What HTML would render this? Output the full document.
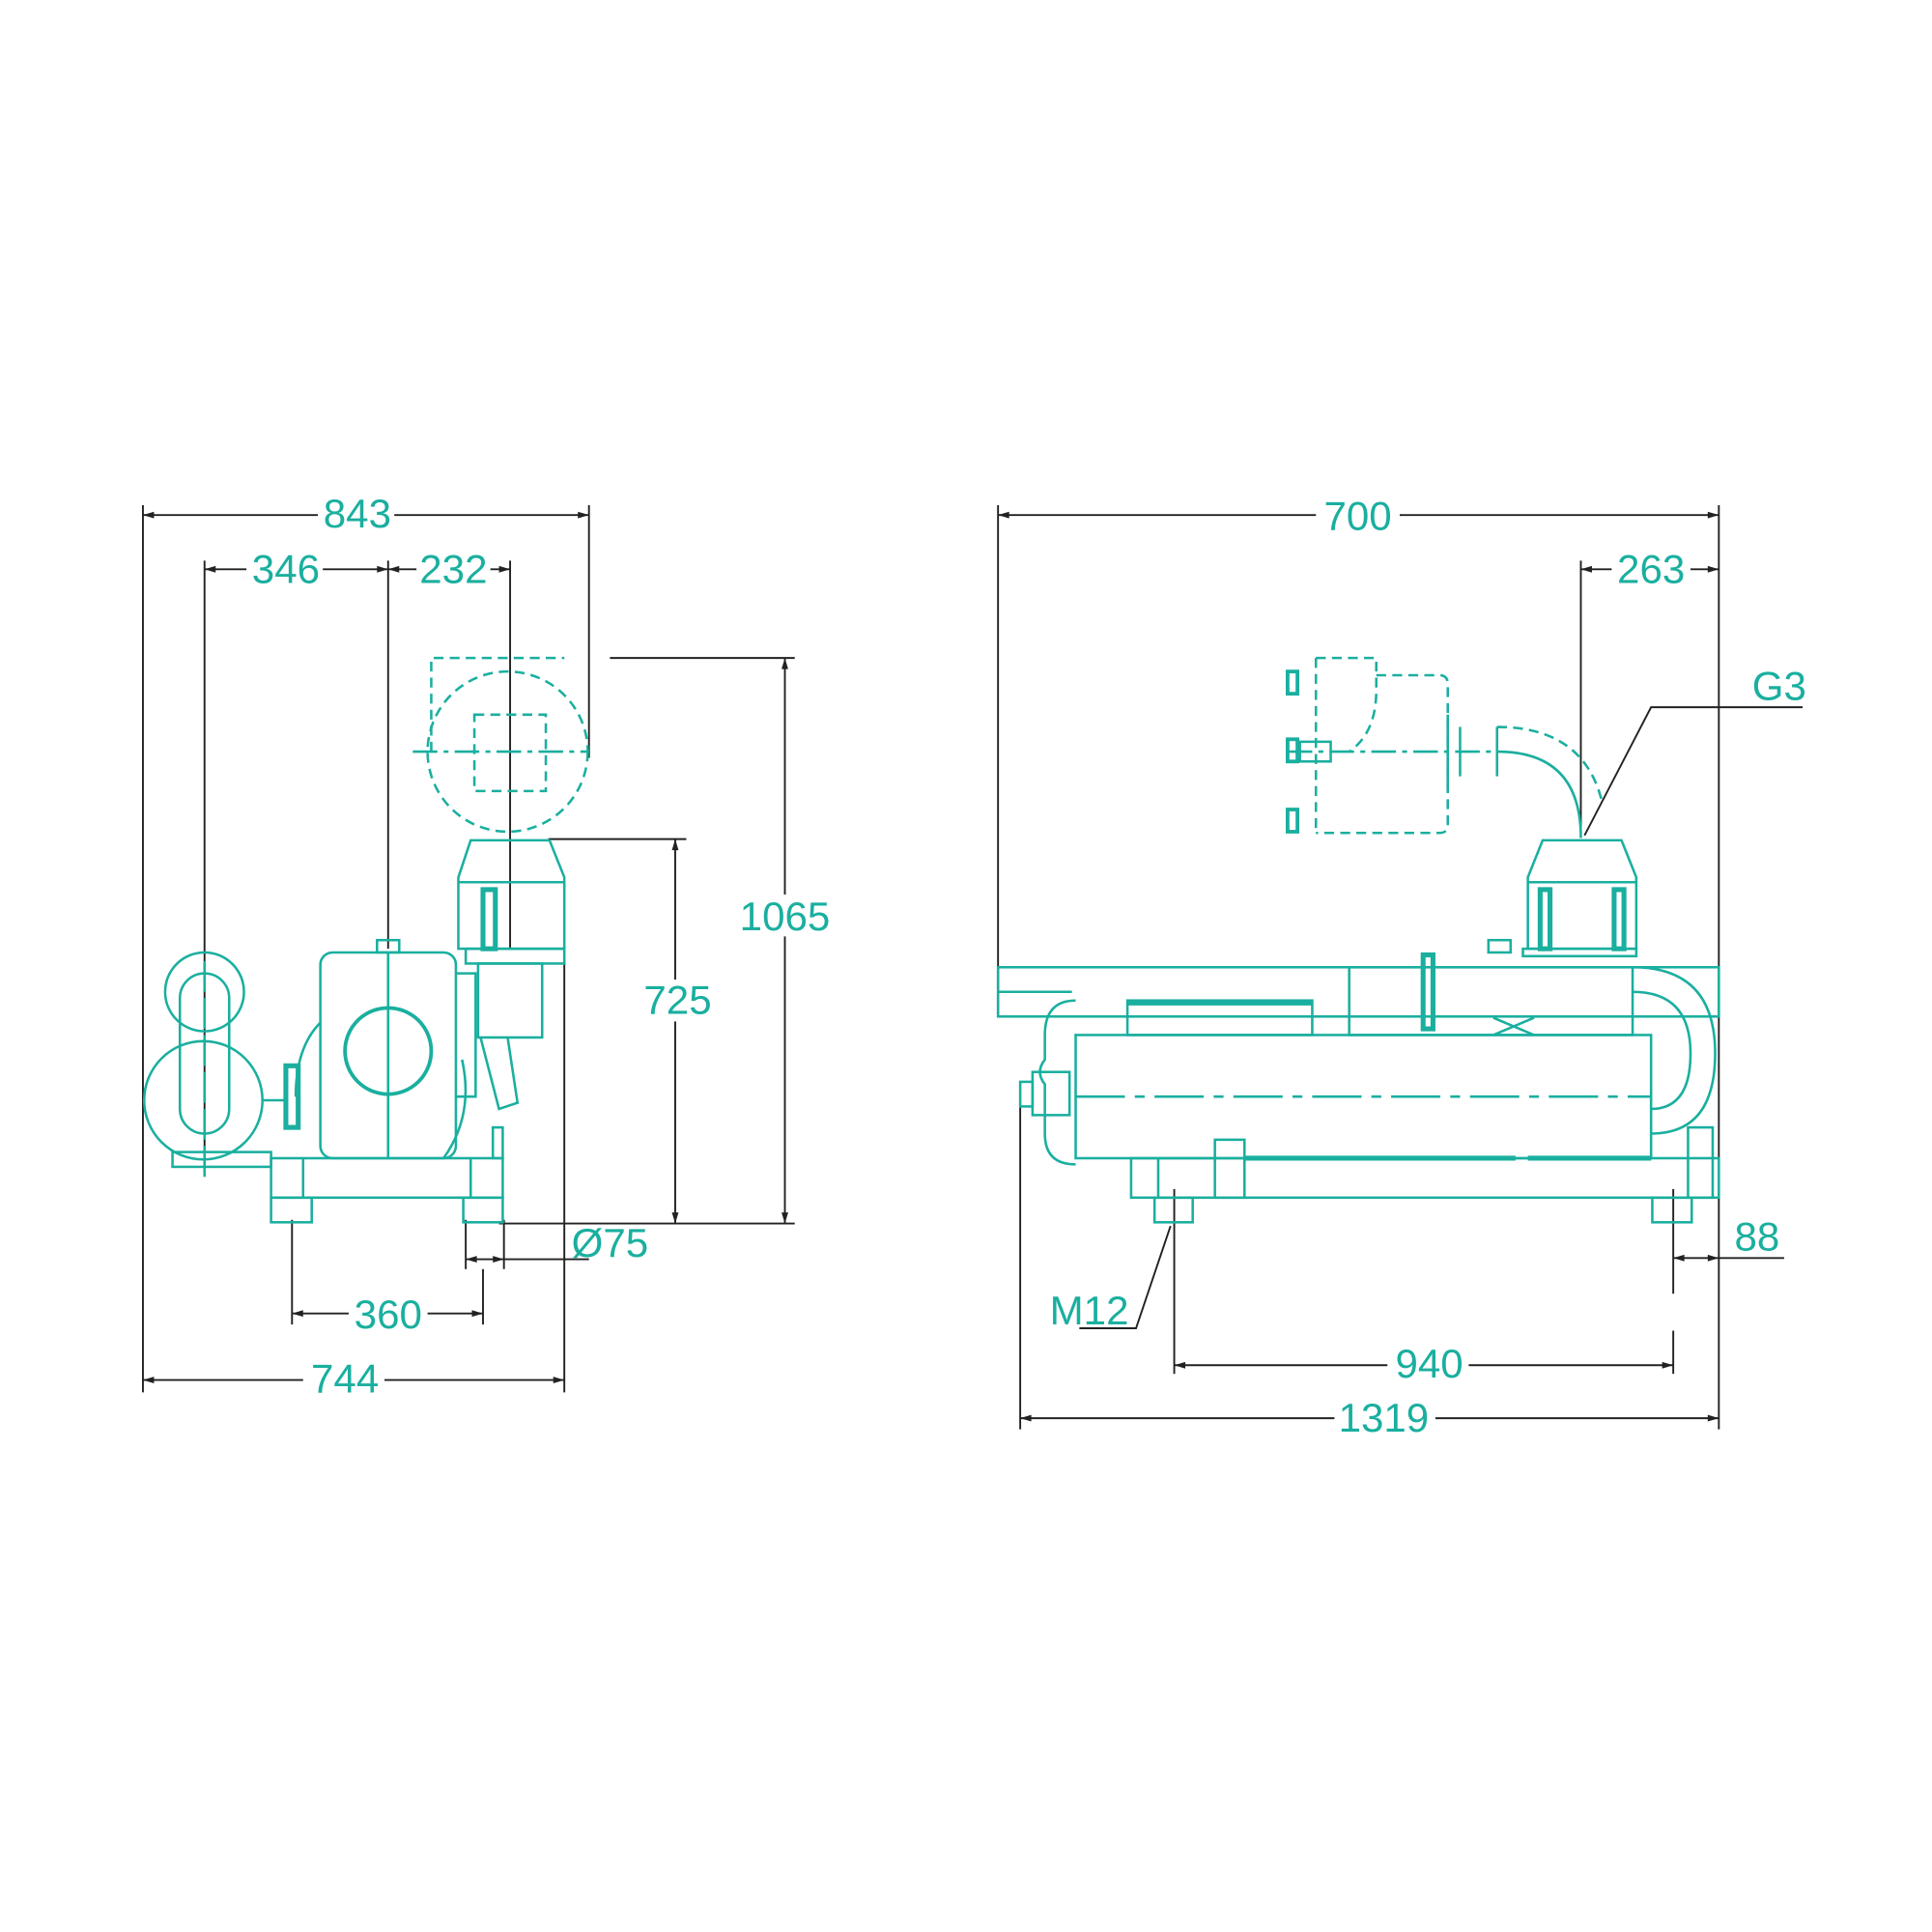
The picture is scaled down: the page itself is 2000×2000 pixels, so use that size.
<!DOCTYPE html>
<html><head><meta charset="utf-8"><style>
html,body{margin:0;padding:0;background:#fff}
svg{display:block}
text{font-family:"Liberation Sans",sans-serif;font-size:33px;fill:#1aaf9f}
</style></head><body>
<svg width="2000" height="2000" viewBox="0 0 1568 1568" xmlns="http://www.w3.org/2000/svg">
<defs>
<marker id="a" viewBox="0 0 10 10" refX="10" refY="5" markerWidth="9" markerHeight="6" orient="auto-start-reverse"><path d="M0,2 L10,5 L0,8z" fill="#222"/></marker>
</defs>
<g stroke="#222" stroke-width="1.5" fill="none">
<line x1="116" y1="410" x2="116" y2="1130"/>
<line x1="478" y1="410" x2="478" y2="615"/>
<line x1="166" y1="455" x2="166" y2="955"/>
<line x1="315" y1="455" x2="315" y2="770"/>
<line x1="414" y1="455" x2="414" y2="770"/>
<line x1="458" y1="770" x2="458" y2="1130"/>
<line x1="495" y1="534" x2="645" y2="534"/>
<line x1="405" y1="993" x2="645" y2="993"/>
<line x1="445" y1="681" x2="557" y2="681"/>
<line x1="378" y1="990" x2="378" y2="1030"/>
<line x1="409" y1="990" x2="409" y2="1030"/>
<line x1="237" y1="990" x2="237" y2="1075"/>
<line x1="392" y1="1030" x2="392" y2="1075"/>
<line x1="810" y1="410" x2="810" y2="825"/>
<line x1="1395" y1="410" x2="1395" y2="1160"/>
<line x1="1283" y1="455" x2="1283" y2="680"/>
<line x1="1358" y1="965" x2="1358" y2="1050"/>
<line x1="953" y1="965" x2="953" y2="1115"/>
<line x1="1358" y1="1080" x2="1358" y2="1115"/>
<line x1="828" y1="880" x2="828" y2="1160"/>
<polyline points="1463,574 1340,574 1286,678"/>
<polyline points="876,1078 922,1078 950,995"/>
<line x1="409" y1="1022" x2="478" y2="1022"/>
<line x1="1395" y1="1021" x2="1448" y2="1021"/>
</g>
<g stroke="#222" stroke-width="1.5" marker-start="url(#a)" marker-end="url(#a)">
<line x1="116" y1="418" x2="478" y2="418"/>
<line x1="166" y1="462" x2="315" y2="462"/>
<line x1="315" y1="462" x2="414" y2="462"/>
<line x1="637" y1="534" x2="637" y2="993"/>
<line x1="548" y1="681" x2="548" y2="993"/>
<line x1="378" y1="1022" x2="409" y2="1022"/>
<line x1="237" y1="1066" x2="392" y2="1066"/>
<line x1="116" y1="1120" x2="458" y2="1120"/>
<line x1="810" y1="418" x2="1395" y2="418"/>
<line x1="1283" y1="462" x2="1395" y2="462"/>
<line x1="1358" y1="1021" x2="1395" y2="1021"/>
<line x1="953" y1="1108" x2="1358" y2="1108"/>
<line x1="828" y1="1151" x2="1395" y2="1151"/>
</g>
<g fill="#fff">
<rect x="258" y="402" width="62" height="32"/>
<rect x="200" y="446" width="62" height="32"/>
<rect x="338" y="446" width="60" height="32"/>
<rect x="596" y="726" width="82" height="34"/>
<rect x="518" y="795" width="64" height="34"/>
<rect x="283" y="1050" width="64" height="32"/>
<rect x="246" y="1104" width="66" height="32"/>
<rect x="1068" y="402" width="68" height="32"/>
<rect x="1308" y="446" width="64" height="32"/>
<rect x="1126" y="1092" width="66" height="32"/>
<rect x="1083" y="1135" width="82" height="32"/>
</g>
<g text-anchor="middle">
<text x="290" y="428">843</text>
<text x="232" y="473">346</text>
<text x="368" y="473">232</text>
<text x="637" y="755">1065</text>
<text x="550" y="823">725</text>
<text x="495" y="1020">Ø75</text>
<text x="315" y="1078">360</text>
<text x="280" y="1130">744</text>
<text x="1102" y="430">700</text>
<text x="1340" y="473">263</text>
<text x="1444" y="568">G3</text>
<text x="1426" y="1015">88</text>
<text x="884" y="1075">M12</text>
<text x="1160" y="1118">940</text>
<text x="1123" y="1162">1319</text>
</g>
<g stroke="#1aaf9f" stroke-width="2" fill="none">
<g stroke-dasharray="8,5">
<circle cx="412" cy="610" r="65"/>
<polyline points="350,610 350,534 458,534"/>
<rect x="385" y="580" width="58" height="62"/>
</g>
<line x1="335" y1="610" x2="478" y2="610" stroke-dasharray="20,5,4,5"/>
<path d="M382,682 H446 L458,712 V770 H372 V712 Z"/>
<line x1="372" y1="716" x2="458" y2="716"/>
<rect x="392" y="722" width="10" height="48" stroke-width="4"/>
<rect x="378" y="770" width="80" height="12"/>
<rect x="388" y="782" width="52" height="60"/>
<path d="M390,842 L405,900 L420,895 L412,842"/>
<rect x="260" y="773" width="110" height="167" rx="10"/>
<line x1="315" y1="773" x2="315" y2="940"/>
<circle cx="315" cy="853" r="35" stroke-width="3"/>
<rect x="306" y="763" width="18" height="10"/>
<path d="M370,790 H386 V890 H370"/>
<path d="M260,830 Q240,850 240,890"/>
<rect x="232" y="865" width="10" height="50" stroke-width="4"/>
<circle cx="165" cy="893" r="48"/>
<circle cx="166" cy="805" r="32"/>
<rect x="146" y="790" width="40" height="130" rx="20"/>
<line x1="166" y1="780" x2="166" y2="955" stroke-dasharray="25,5"/>
<line x1="213" y1="893" x2="232" y2="893"/>
<rect x="140" y="935" width="80" height="12"/>
<rect x="220" y="940" width="188" height="32"/>
<line x1="246" y1="940" x2="246" y2="972"/>
<line x1="382" y1="940" x2="382" y2="972"/>
<rect x="220" y="972" width="33" height="20"/>
<rect x="376" y="972" width="32" height="20"/>
<rect x="400" y="915" width="8" height="25"/>
<path d="M360,940 Q385,905 375,860"/>
</g>
<g stroke="#1aaf9f" stroke-width="2" fill="none">
<g stroke-dasharray="8,5">
<path d="M1068,534 H1117 V560 Q1117,595 1095,610"/>
<path d="M1117,548 H1168 Q1175,548 1175,555 V670 Q1175,676 1168,676 H1068"/>
<line x1="1068" y1="534" x2="1068" y2="676"/>
<path d="M1215,590 Q1285,590 1300,650"/>
</g>
<line x1="1045" y1="610" x2="1215" y2="610" stroke-dasharray="20,5,4,5"/>
<g stroke-width="3">
<rect x="1045" y="545" width="8" height="18"/>
<rect x="1045" y="600" width="8" height="18"/>
<rect x="1045" y="657" width="8" height="18"/>
</g>
<rect x="1055" y="602" width="25" height="16"/>
<path d="M1175,580 V640 M1185,590 V630 M1215,590 V630"/>
<path d="M1215,610 Q1283,610 1283,680"/>
<path d="M1252,682 H1316 L1328,712 V770 H1240 V712 Z"/>
<line x1="1240" y1="716" x2="1328" y2="716"/>
<rect x="1250" y="722" width="8" height="48" stroke-width="4"/>
<rect x="1310" y="722" width="8" height="48" stroke-width="4"/>
<rect x="1236" y="770" width="92" height="6"/>
<rect x="810" y="785" width="585" height="40"/>
<line x1="810" y1="805" x2="870" y2="805"/>
<rect x="1095" y="785" width="230" height="55"/>
<rect x="1208" y="763" width="18" height="10"/>
<rect x="1155" y="775" width="8" height="60" stroke-width="4"/>
<rect x="915" y="812" width="150" height="28"/>
<line x1="915" y1="814" x2="1065" y2="814" stroke-width="4"/>
<path d="M1212,826 L1245,840 M1212,840 L1245,826"/>
<rect x="873" y="840" width="467" height="100"/>
<line x1="873" y1="890" x2="1340" y2="890" stroke-dasharray="40,8,8,8"/>
<path d="M873,812 Q848,812 848,840 V860 Q840,870 848,880 V920 Q848,945 873,945"/>
<rect x="838" y="870" width="30" height="35"/>
<rect x="828" y="878" width="10" height="20"/>
<path d="M1325,785 Q1392,785 1392,855 Q1392,920 1340,920"/>
<path d="M1325,805 Q1372,805 1372,855 Q1372,900 1340,900"/>
<rect x="918" y="940" width="477" height="32"/>
<line x1="940" y1="940" x2="940" y2="972"/>
<line x1="1240" y1="940" x2="1340" y2="940" stroke-width="4"/>
<line x1="1010" y1="940" x2="1230" y2="940" stroke-width="4"/>
<rect x="986" y="925" width="24" height="47"/>
<rect x="1370" y="915" width="20" height="57"/>
<rect x="937" y="972" width="31" height="20"/>
<rect x="1341" y="972" width="32" height="20"/>
</g>
</svg>
</body></html>
